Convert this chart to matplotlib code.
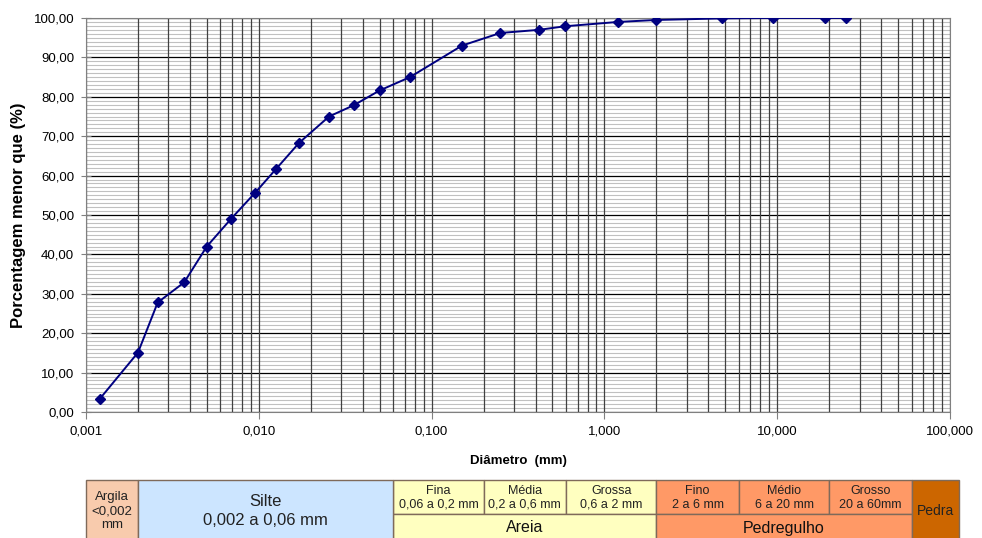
import matplotlib
matplotlib.use("Agg")
import matplotlib.pyplot as plt
from matplotlib.patches import Rectangle
from matplotlib.ticker import FixedLocator, FuncFormatter, MultipleLocator, LogLocator

plt.rcParams['font.family'] = ['Liberation Sans', 'DejaVu Sans']

# ── data ─────────────────────────────────────────────────────────────────────
diametro = [0.0012, 0.002, 0.0026, 0.0037, 0.005, 0.0069, 0.0095, 0.0126,
            0.0171, 0.0255, 0.0356, 0.050, 0.075, 0.15, 0.25, 0.42, 0.59,
            1.2, 2.0, 4.8, 9.5, 19.0, 25.0]
passante = [3.3, 15.1, 27.8, 32.9, 42.0, 49.0, 55.6, 61.7, 68.3, 75.0, 77.9,
            81.6, 85.0, 93.0, 96.2, 97.0, 97.9, 99.0, 99.5, 99.9, 100.0,
            100.0, 100.0]

x_ticks = [0.001, 0.01, 0.1, 1, 10, 100]

# soil classes: (label, from, to, color)
classes_top = [
    ("Fina\n0,06 a 0,2 mm", 0.06, 0.2, "#ffffc0"),
    ("Média\n0,2 a 0,6 mm", 0.2, 0.6, "#ffffc0"),
    ("Grossa\n0,6 a 2 mm", 0.6, 2.0, "#ffffc0"),
    ("Fino\n2 a 6 mm", 2.0, 6.0, "#ff9966"),
    ("Médio\n6 a 20 mm", 6.0, 20.0, "#ff9966"),
    ("Grosso\n20 a 60mm", 20.0, 60.0, "#ff9966"),
]
classes_bottom = [
    ("Areia", 0.06, 2.0, "#ffffc0"),
    ("Pedregulho", 2.0, 60.0, "#ff9966"),
]
classes_full = [
    ("Argila\n<0,002\nmm", 0.001, 0.002, "#f8cbad", 9.5, 1.2),
    ("Silte\n0,002 a 0,06 mm", 0.002, 0.06, "#cce5ff", 12, 1.3),
    ("Pedra", 60.0, 112.0, "#cc6600", 10, 1.0),
]

W, H = 982, 538
fig = plt.figure(figsize=(W / 100, H / 100), dpi=100)

# pixel frame of the plot area
L, R, T, B = 86, 950, 18, 412
ax = fig.add_axes([L / W, 1 - B / H, (R - L) / W, (B - T) / H])

ax.plot(diametro, passante, color="#000080", lw=1.4, marker="D", ms=5.5,
        mfc="#000080", mec="#000080", zorder=5)
ax.set_xscale("log")
ax.set_xlim(0.001, 100)
ax.set_ylim(0, 100)

ax.xaxis.set_major_locator(FixedLocator(x_ticks))
ax.xaxis.set_minor_locator(LogLocator(base=10, subs=range(2, 10)))
ax.xaxis.set_major_formatter(FuncFormatter(lambda v, _: f"{v:.3f}".replace(".", ",")))
ax.xaxis.set_minor_formatter(FuncFormatter(lambda v, _: ""))
ax.yaxis.set_major_locator(MultipleLocator(10))
ax.yaxis.set_minor_locator(MultipleLocator(1))
ax.yaxis.set_major_formatter(FuncFormatter(lambda v, _: f"{v:.2f}".replace(".", ",")))

ax.grid(which="minor", axis="y", color="#c0c0c0", lw=0.8)
ax.grid(which="major", axis="y", color="#000000", lw=0.9)
ax.grid(which="both", axis="x", color="#404040", lw=0.9)
ax.set_axisbelow(True)
ax.xaxis.set_zorder(0.7)   # vertical lines over the light horizontal ones

ax.tick_params(which="major", length=5, color="#808080", labelsize=9.5, pad=5)
ax.tick_params(axis="y", which="major", direction="inout", length=7)
ax.tick_params(which="minor", length=0)
for s in ax.spines.values():
    s.set_color("#808080")

ax.set_xlabel("Diâmetro  (mm)", fontsize=9.5, fontweight="bold")
ax.xaxis.set_label_coords(0.5, -0.108)
ax.set_ylabel("Porcentagem menor que (%)", fontsize=12, fontweight="bold")
ax.yaxis.set_label_coords(-0.069, 0.5)

# ── classification table under the chart ────────────────────────────────────
t_top, t_mid, t_bot = 480, 514, 550
tb = fig.add_axes([L / W, 1 - t_bot / H, (R - L) / W, (t_bot - t_top) / H])
tb.set_xscale("log")
tb.set_xlim(0.001, 100)
tb.set_ylim(t_bot, t_top)
tb.axis("off")

edge = "#7f6a5a"
for label, x0, x1, c in classes_top:
    tb.add_patch(Rectangle((x0, t_top), x1 - x0, t_mid - t_top, fc=c, ec=edge,
                           lw=1, clip_on=False))
    tb.text((x0 * x1) ** 0.5, (t_top + t_mid) / 2 + 1, label, ha="center", va="center",
            fontsize=9, color="#222222", linespacing=1.15, clip_on=False)
for label, x0, x1, c in classes_bottom:
    tb.add_patch(Rectangle((x0, t_mid), x1 - x0, t_bot - t_mid, fc=c, ec=edge,
                           lw=1, clip_on=False))
    tb.text((x0 * x1) ** 0.5, t_mid + 14, label, ha="center", va="center",
            fontsize=11.5, color="#111111", clip_on=False)
for label, x0, x1, c, fs, ls in classes_full:
    tb.add_patch(Rectangle((x0, t_top), x1 - x0, t_bot - t_top, fc=c, ec=edge,
                           lw=1, clip_on=False))
    tb.text((x0 * x1) ** 0.5, 511, label, ha="center", va="center",
            fontsize=fs, color="#222222", linespacing=ls, clip_on=False)

fig.savefig("out.png", dpi=100)
